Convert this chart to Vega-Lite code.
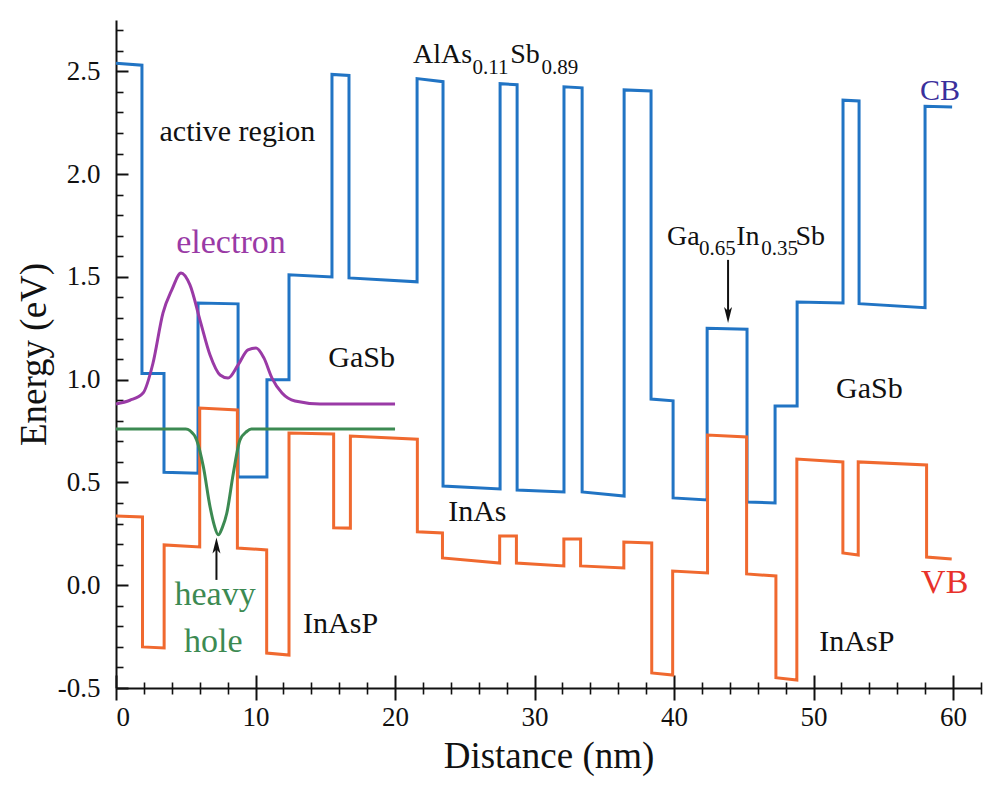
{
  "$schema": "https://vega.github.io/schema/vega-lite/v6.json",
  "width": 865,
  "height": 668,
  "autosize": {"type": "none"},
  "padding": {"left": 116, "top": 20, "right": 7, "bottom": 97},
  "background": "white",
  "config": {
    "view": {"stroke": null},
    "font": "Liberation Serif",
    "text": {"font": "Liberation Serif"},
    "axis": {"labelFont": "Liberation Serif", "titleFont": "Liberation Serif", "domainColor": "#111", "tickColor": "#111", "labelColor": "#111", "titleColor": "#111", "grid": false, "titleFontWeight": "normal", "domainWidth": 2, "tickWidth": 2}
  },
  "datasets": {
    "cb": [
      {"i":0,"x":0,"y":2.54},{"i":1,"x":1.86,"y":2.53},{"i":2,"x":1.86,"y":1.03},{"i":3,"x":3.44,"y":1.03},{"i":4,"x":3.44,"y":0.55},{"i":5,"x":5.88,"y":0.545},{"i":6,"x":5.88,"y":1.373},{"i":7,"x":8.75,"y":1.369},{"i":8,"x":8.75,"y":0.527},{"i":9,"x":10.82,"y":0.527},{"i":10,"x":10.82,"y":1.0},{"i":11,"x":12.4,"y":1.0},{"i":12,"x":12.4,"y":1.51},{"i":13,"x":15.48,"y":1.5},{"i":14,"x":15.48,"y":2.485},{"i":15,"x":16.7,"y":2.48},{"i":16,"x":16.7,"y":1.495},{"i":17,"x":21.58,"y":1.476},{"i":18,"x":21.58,"y":2.465},{"i":19,"x":23.44,"y":2.45},{"i":20,"x":23.44,"y":0.483},{"i":21,"x":27.53,"y":0.468},{"i":22,"x":27.53,"y":2.44},{"i":23,"x":28.75,"y":2.435},{"i":24,"x":28.75,"y":0.463},{"i":25,"x":32.11,"y":0.454},{"i":26,"x":32.11,"y":2.425},{"i":27,"x":33.41,"y":2.42},{"i":28,"x":33.41,"y":0.454},{"i":29,"x":36.42,"y":0.434},{"i":30,"x":36.42,"y":2.41},{"i":31,"x":38.35,"y":2.405},{"i":32,"x":38.35,"y":0.906},{"i":33,"x":39.93,"y":0.897},{"i":34,"x":39.93,"y":0.425},{"i":35,"x":42.37,"y":0.415},{"i":36,"x":42.37,"y":1.25},{"i":37,"x":45.23,"y":1.245},{"i":38,"x":45.23,"y":0.405},{"i":39,"x":47.24,"y":0.4},{"i":40,"x":47.24,"y":0.872},{"i":41,"x":48.82,"y":0.872},{"i":42,"x":48.82,"y":1.378},{"i":43,"x":52.11,"y":1.373},{"i":44,"x":52.11,"y":2.36},{"i":45,"x":53.26,"y":2.356},{"i":46,"x":53.26,"y":1.37},{"i":47,"x":57.99,"y":1.35},{"i":48,"x":57.99,"y":2.33},{"i":49,"x":59.93,"y":2.327}
    ],
    "vb": [
      {"i":0,"x":0,"y":0.337},{"i":1,"x":1.9,"y":0.332},{"i":2,"x":1.9,"y":-0.3},{"i":3,"x":3.45,"y":-0.305},{"i":4,"x":3.45,"y":0.196},{"i":5,"x":6.0,"y":0.186},{"i":6,"x":6.0,"y":0.862},{"i":7,"x":8.7,"y":0.853},{"i":8,"x":8.7,"y":0.181},{"i":9,"x":10.8,"y":0.172},{"i":10,"x":10.8,"y":-0.33},{"i":11,"x":12.4,"y":-0.34},{"i":12,"x":12.4,"y":0.741},{"i":13,"x":15.6,"y":0.736},{"i":14,"x":15.6,"y":0.28},{"i":15,"x":16.8,"y":0.278},{"i":16,"x":16.8,"y":0.726},{"i":17,"x":21.6,"y":0.71},{"i":18,"x":21.6,"y":0.26},{"i":19,"x":23.4,"y":0.254},{"i":20,"x":23.4,"y":0.133},{"i":21,"x":27.5,"y":0.108},{"i":22,"x":27.5,"y":0.24},{"i":23,"x":28.7,"y":0.24},{"i":24,"x":28.7,"y":0.108},{"i":25,"x":32.1,"y":0.094},{"i":26,"x":32.1,"y":0.225},{"i":27,"x":33.3,"y":0.225},{"i":28,"x":33.3,"y":0.094},{"i":29,"x":36.4,"y":0.084},{"i":30,"x":36.4,"y":0.21},{"i":31,"x":38.4,"y":0.206},{"i":32,"x":38.4,"y":-0.427},{"i":33,"x":39.9,"y":-0.437},{"i":34,"x":39.9,"y":0.069},{"i":35,"x":42.4,"y":0.06},{"i":36,"x":42.4,"y":0.731},{"i":37,"x":45.2,"y":0.721},{"i":38,"x":45.2,"y":0.055},{"i":39,"x":47.3,"y":0.045},{"i":40,"x":47.3,"y":-0.45},{"i":41,"x":48.8,"y":-0.461},{"i":42,"x":48.8,"y":0.614},{"i":43,"x":52.1,"y":0.6},{"i":44,"x":52.1,"y":0.157},{"i":45,"x":53.2,"y":0.147},{"i":46,"x":53.2,"y":0.6},{"i":47,"x":58.1,"y":0.585},{"i":48,"x":58.1,"y":0.137},{"i":49,"x":59.9,"y":0.128}
    ],
    "electron": [
      {"x":0,"y":0.882},{"x":1.0,"y":0.9},{"x":1.94,"y":0.935},{"x":2.65,"y":1.08},{"x":3.37,"y":1.325},{"x":4.0,"y":1.437},{"x":4.66,"y":1.519},{"x":5.3,"y":1.461},{"x":6.02,"y":1.29},{"x":6.74,"y":1.12},{"x":7.46,"y":1.023},{"x":8.03,"y":1.008},{"x":8.75,"y":1.072},{"x":9.46,"y":1.145},{"x":10.04,"y":1.154},{"x":10.6,"y":1.106},{"x":11.18,"y":1.008},{"x":11.9,"y":0.935},{"x":12.83,"y":0.896},{"x":14.62,"y":0.882},{"x":20.0,"y":0.882}
    ],
    "hole": [
      {"x":0,"y":0.76},{"x":5.0,"y":0.76},{"x":5.3,"y":0.752},{"x":5.78,"y":0.707},{"x":6.26,"y":0.577},{"x":6.74,"y":0.382},{"x":7.05,"y":0.29},{"x":7.33,"y":0.245},{"x":7.62,"y":0.28},{"x":7.94,"y":0.35},{"x":8.41,"y":0.545},{"x":8.89,"y":0.707},{"x":9.37,"y":0.748},{"x":9.7,"y":0.76},{"x":20.0,"y":0.76}
    ],
    "labels": [
      {"label":"active region","x":8.7,"y":2.16,"role":"text"},
      {"label":"GaSb","x":17.6,"y":1.062,"role":"text"},
      {"label":"GaSb","x":54.0,"y":0.911,"role":"text"},
      {"label":"InAs","x":25.9,"y":0.313,"role":"text"},
      {"label":"InAsP","x":16.1,"y":-0.232,"role":"text"},
      {"label":"InAsP","x":53.1,"y":-0.32,"role":"text"},
      {"label":"CB","x":59.07,"y":2.361,"role":"CB"}
    ],
    "biglabels": [
      {"label":"electron","x":8.24,"y":1.617,"role":"electron"},
      {"label":"heavy","x":7.1,"y":-0.096,"role":"hole"},
      {"label":"hole","x":6.98,"y":-0.325,"role":"hole"},
      {"label":"VB","x":59.4,"y":-0.038,"role":"VB"}
    ],
    "formula": [
      {"label":"AlAs","x":21.29,"y":2.541},
      {"label":"Sb","x":28.25,"y":2.541},
      {"label":"Ga","x":39.5,"y":1.656},
      {"label":"In","x":44.45,"y":1.656},
      {"label":"Sb","x":48.7,"y":1.656}
    ],
    "subs": [
      {"label":"0.11","x":25.55,"y":2.488},
      {"label":"0.89","x":30.5,"y":2.488},
      {"label":"0.65","x":41.79,"y":1.607},
      {"label":"0.35","x":46.25,"y":1.607}
    ],
    "arrows": [
      {"x":7.2,"y":0.026,"y2":0.2},
      {"x":43.87,"y":1.583,"y2":1.31}
    ],
    "heads": [
      {"x":7.2,"y":0.232,"dir":"up"},
      {"x":43.87,"y":1.276,"dir":"down"}
    ]
  },
  "resolve": {"axis": {"x": "independent", "y": "independent"}},
  "layer": [
    {
      "data": {"name": "cb"},
      "mark": {"type": "line", "color": "#2174c4", "strokeWidth": 3, "strokeJoin": "miter"},
      "encoding": {
        "x": {"field": "x", "type": "quantitative", "scale": {"domain": [0, 62], "nice": false, "zero": false},
              "axis": {"orient": "bottom", "values": [0,10,20,30,40,50,60], "tickSize": 12, "labelFont": "Liberation Serif", "labelFontSize": 27, "labelPadding": 4, "format": "d", "title": "Distance (nm)", "titleFont": "Liberation Serif", "titleFontSize": 37, "titlePadding": 8}},
        "y": {"field": "y", "type": "quantitative", "scale": {"domain": [-0.5, 2.75], "nice": false, "zero": false},
              "axis": {"orient": "left", "values": [-0.5,0,0.5,1,1.5,2,2.5], "ticks": false, "labelFont": "Liberation Serif", "labelFontSize": 27, "labelPadding": 16, "labelExpr": "datum.value < 0 ? '-' + format(-datum.value, '.1f') : format(datum.value, '.1f')", "title": "Energy (eV)", "titleFont": "Liberation Serif", "titleFontSize": 37, "titlePadding": 4}},
        "order": {"field": "i", "type": "quantitative"}
      }
    },
    {
      "data": {"name": "vb"},
      "mark": {"type": "line", "color": "#f0692f", "strokeWidth": 3, "strokeJoin": "miter"},
      "encoding": {
        "x": {"field": "x", "type": "quantitative", "scale": {"domain": [0, 62], "nice": false, "zero": false},
              "axis": {"orient": "bottom", "values": [0,10,20,30,40,50,60], "tickSize": 13, "offset": -13, "domain": false, "labels": false, "title": null}},
        "y": {"field": "y", "type": "quantitative", "scale": {"domain": [-0.5, 2.75], "nice": false, "zero": false},
              "axis": {"orient": "left", "values": [-0.5,0,0.5,1,1.5,2,2.5], "tickSize": 12, "offset": -12, "domain": false, "labels": false, "title": null}},
        "order": {"field": "i", "type": "quantitative"}
      }
    },
    {
      "data": {"name": "electron"},
      "mark": {"type": "line", "color": "#9a3aa6", "strokeWidth": 3, "interpolate": "monotone"},
      "encoding": {
        "x": {"field": "x", "type": "quantitative", "scale": {"domain": [0, 62], "nice": false, "zero": false},
              "axis": {"orient": "bottom", "values": [2,4,6,8,12,14,16,18,22,24,26,28,32,34,36,38,42,44,46,48,52,54,56,58,62], "tickSize": 12, "offset": -6, "tickWidth": 1.6, "domain": false, "labels": false, "title": null}},
        "y": {"field": "y", "type": "quantitative", "scale": {"domain": [-0.5, 2.75], "nice": false, "zero": false},
              "axis": {"orient": "left", "values": [-0.4,-0.3,-0.2,-0.1,0.1,0.2,0.3,0.4,0.6,0.7,0.8,0.9,1.1,1.2,1.3,1.4,1.6,1.7,1.8,1.9,2.1,2.2,2.3,2.4,2.6,2.7], "tickSize": 7, "offset": -7, "tickWidth": 1.6, "domain": false, "labels": false, "title": null}}
      }
    },
    {
      "data": {"name": "hole"},
      "mark": {"type": "line", "color": "#3c8a52", "strokeWidth": 3, "interpolate": "monotone"},
      "encoding": {
        "x": {"field": "x", "type": "quantitative", "scale": {"domain": [0, 62], "nice": false, "zero": false}, "axis": null},
        "y": {"field": "y", "type": "quantitative", "scale": {"domain": [-0.5, 2.75], "nice": false, "zero": false}, "axis": null}
      }
    },
    {
      "data": {"name": "arrows"},
      "mark": {"type": "rule", "color": "#111", "strokeWidth": 2},
      "encoding": {
        "x": {"field": "x", "type": "quantitative", "scale": {"domain": [0, 62], "nice": false, "zero": false}, "axis": null},
        "y": {"field": "y", "type": "quantitative", "scale": {"domain": [-0.5, 2.75], "nice": false, "zero": false}, "axis": null},
        "y2": {"field": "y2"}
      }
    },
    {
      "data": {"name": "heads"},
      "mark": {"type": "point", "filled": true, "opacity": 1, "size": 256, "color": "#111"},
      "encoding": {
        "x": {"field": "x", "type": "quantitative", "scale": {"domain": [0, 62], "nice": false, "zero": false}, "axis": null},
        "y": {"field": "y", "type": "quantitative", "scale": {"domain": [-0.5, 2.75], "nice": false, "zero": false}, "axis": null},
        "shape": {"field": "dir", "type": "nominal", "scale": {"domain": ["up", "down"], "range": ["M0,0L0.5,2L0,1.5L-0.5,2Z", "M0,0L0.5,-2L0,-1.5L-0.5,-2Z"]}, "legend": null}
      }
    },
    {
      "data": {"name": "labels"},
      "mark": {"type": "text", "fontSize": 30, "align": "center", "baseline": "alphabetic", "font": "Liberation Serif"},
      "encoding": {
        "x": {"field": "x", "type": "quantitative", "scale": {"domain": [0, 62], "nice": false, "zero": false}, "axis": null},
        "y": {"field": "y", "type": "quantitative", "scale": {"domain": [-0.5, 2.75], "nice": false, "zero": false}, "axis": null},
        "text": {"field": "label"},
        "color": {"field": "role", "type": "nominal", "scale": {"domain": ["text", "CB", "VB", "electron", "hole"], "range": ["#111111", "#3a2f9c", "#e8322b", "#9a3aa6", "#3c8a52"]}, "legend": null}
      }
    },
    {
      "data": {"name": "biglabels"},
      "mark": {"type": "text", "fontSize": 34, "align": "center", "baseline": "alphabetic", "font": "Liberation Serif"},
      "encoding": {
        "x": {"field": "x", "type": "quantitative", "scale": {"domain": [0, 62], "nice": false, "zero": false}, "axis": null},
        "y": {"field": "y", "type": "quantitative", "scale": {"domain": [-0.5, 2.75], "nice": false, "zero": false}, "axis": null},
        "text": {"field": "label"},
        "color": {"field": "role", "type": "nominal", "scale": {"domain": ["text", "CB", "VB", "electron", "hole"], "range": ["#111111", "#3a2f9c", "#e8322b", "#9a3aa6", "#3c8a52"]}, "legend": null}
      }
    },
    {
      "data": {"name": "formula"},
      "mark": {"type": "text", "fontSize": 28, "align": "left", "baseline": "alphabetic", "font": "Liberation Serif", "color": "#111"},
      "encoding": {
        "x": {"field": "x", "type": "quantitative", "scale": {"domain": [0, 62], "nice": false, "zero": false}, "axis": null},
        "y": {"field": "y", "type": "quantitative", "scale": {"domain": [-0.5, 2.75], "nice": false, "zero": false}, "axis": null},
        "text": {"field": "label"}
      }
    },
    {
      "data": {"name": "subs"},
      "mark": {"type": "text", "fontSize": 21, "align": "left", "baseline": "alphabetic", "font": "Liberation Serif", "color": "#111"},
      "encoding": {
        "x": {"field": "x", "type": "quantitative", "scale": {"domain": [0, 62], "nice": false, "zero": false}, "axis": null},
        "y": {"field": "y", "type": "quantitative", "scale": {"domain": [-0.5, 2.75], "nice": false, "zero": false}, "axis": null},
        "text": {"field": "label"}
      }
    }
  ]
}
